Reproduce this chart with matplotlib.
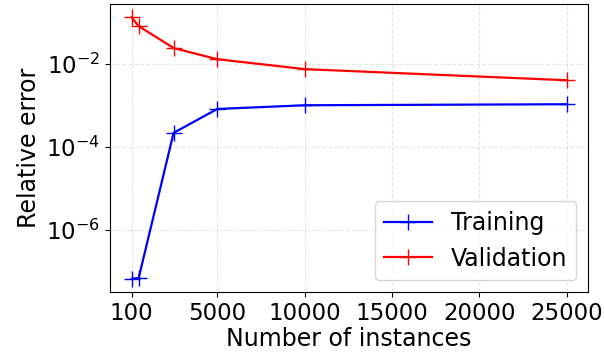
import matplotlib
matplotlib.use("Agg")
import matplotlib.pyplot as plt
from matplotlib.ticker import NullLocator

instances = [100, 500, 2500, 5000, 10000, 25000]
train_error = [6.6e-8, 6.9e-8, 2.2e-4, 8.3e-4, 1.02e-3, 1.08e-3]
val_error = [0.135, 0.083, 0.0245, 0.0132, 0.0076, 0.0041]
xtick_values = [100, 5000, 10000, 15000, 20000, 25000]
ytick_values = [1e-6, 1e-4, 1e-2]

fig, ax = plt.subplots(figsize=(6.04, 3.56), dpi=100)
fig.subplots_adjust(left=0.182, right=0.974, top=0.988, bottom=0.18)

ax.plot(instances, train_error, color="blue", marker="+", markersize=11.5,
        linewidth=1.6, label="Training")
ax.plot(instances, val_error, color="red", marker="+", markersize=11.5,
        linewidth=1.6, label="Validation")
ax.set_yscale("log")
ax.set_xticks(xtick_values)
ax.set_yticks(ytick_values)
ax.yaxis.set_minor_locator(NullLocator())
ax.tick_params(labelsize=16.5)
ax.set_xlabel("Number of instances", fontsize=17, labelpad=2)
ax.set_ylabel("Relative error", fontsize=17)
ax.grid(True, linestyle="--", alpha=0.3)
ax.legend(loc="lower right", fontsize=17)

fig.savefig("out.png", dpi=100)
plt.close(fig)
